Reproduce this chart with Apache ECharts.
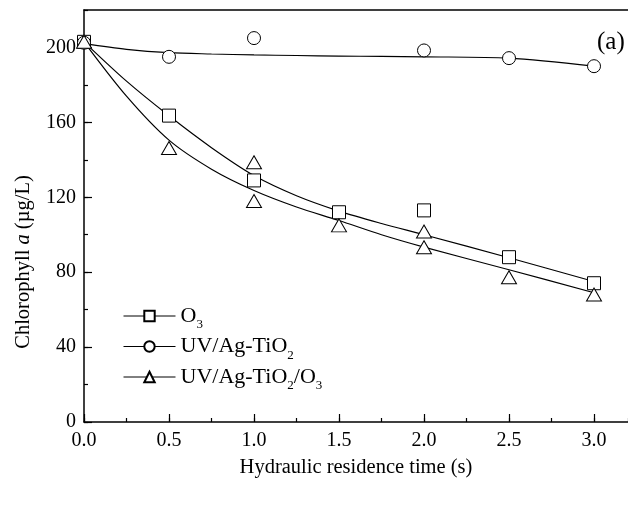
<!DOCTYPE html>
<html>
<head>
<meta charset="utf-8">
<script src="https://cdn.jsdelivr.net/npm/echarts@6/dist/echarts.min.js"></script>
<style>
  html, body { margin: 0; padding: 0; background: #fff; }
  #chart { width: 628px; height: 510px; }
</style>
</head>
<body>
<div id="chart"></div>
<script>
// measured points
const o3X = [0, 0.5, 1.0, 1.5, 2.0, 2.5, 3.0];
const o3Y = [203, 163.6, 129, 112, 113, 88, 74.1];
const uvX = [0, 0.5, 1.0, 2.0, 2.5, 3.0];
const uvY = [202.5, 195, 205, 198.4, 194.3, 190];
const uvo3X = [0, 0.5, 1.0, 1.0, 1.5, 2.0, 2.0, 2.5, 3.0];
const uvo3Y = [203, 146.3, 138.7, 118, 105, 101.7, 93.3, 77.3, 68.1];

// fitted curves
const fitX = [0, 0.25, 0.5, 0.75, 1.0, 1.25, 1.5, 1.75, 2.0, 2.5, 3.0];
const o3Fit = [203, 182, 163.5, 146.5, 131.6, 120.8, 112.6, 106, 100, 87.7, 75];
const uvFit = [202, 199, 197.2, 196.5, 196, 195.7, 195.4, 195.2, 195, 194.3, 190];
const uvo3Fit = [203, 174, 150.5, 135, 123.6, 114.8, 107.6, 100, 93.4, 81.3, 69];

const xTicks = [0, 0.5, 1.0, 1.5, 2.0, 2.5, 3.0];

const pairs = (xs, ys) => xs.map((x, i) => [x, ys[i]]);
const FONT = "Liberation Serif";

const legendNames = {
  "O3": "{n|O}{s|3}",
  "UV/Ag-TiO2": "{n|UV/Ag-TiO}{s|2}",
  "UV/Ag-TiO2/O3": "{n|UV/Ag-TiO}{s|2}{n|/O}{s|3}",
};

const chart = echarts.init(document.getElementById("chart"));

const curve = (data) => ({
  type: "line",
  data: data,
  smooth: 0.3,
  showSymbol: false,
  symbol: "none",
  silent: true,
  lineStyle: { color: "#000", width: 1.2 },
  z: 2,
});

const markers = (name, data, symbol, size) => ({
  name: name,
  type: "line",
  data: data,
  symbol: symbol,
  symbolSize: size,
  showSymbol: true,
  lineStyle: { width: 0, opacity: 0 },
  itemStyle: { color: "#fff", borderColor: "#000", borderWidth: 1 },
  z: 5,
});

chart.setOption({
  animation: false,
  textStyle: { fontFamily: FONT, color: "#000" },
  grid: {
    left: 84, right: 0, top: 10, bottom: 88,
    containLabel: false, outerBoundsMode: "none",
  },
  xAxis: [
    {
      type: "value", min: 0, max: 3.2, interval: 0.5,
      name: "Hydraulic residence time (s)",
      nameLocation: "middle", nameGap: 35,
      nameTextStyle: { fontSize: 20.5, fontFamily: FONT, color: "#000" },
      axisLine: { lineStyle: { color: "#000", width: 1.5 } },
      axisTick: { inside: true, length: 8, lineStyle: { color: "#000", width: 1.2 } },
      axisLabel: {
        fontSize: 20, fontFamily: FONT, color: "#000", margin: 9,
        showMaxLabel: false,
        formatter: (v) => (xTicks.includes(v) ? v.toFixed(1) : ""),
      },
      splitLine: { show: false },
    },
    {
      type: "value", min: 0, max: 3.2, interval: 0.25, position: "bottom",
      axisLine: { show: false },
      axisTick: { inside: true, length: 4, lineStyle: { color: "#000", width: 1.2 } },
      axisLabel: { show: false },
      splitLine: { show: false },
    },
    {
      type: "value", min: 0, max: 3.2, position: "top",
      axisLine: { show: true, onZero: false, lineStyle: { color: "#000", width: 1.5 } },
      axisTick: { show: false },
      axisLabel: { show: false },
      splitLine: { show: false },
    },
  ],
  yAxis: [
    {
      type: "value", min: 0, max: 220, interval: 40,
      name: "Chlorophyll {i|a} (µg/L)",
      nameLocation: "middle", nameGap: 50,
      nameTextStyle: {
        fontSize: 20.5, fontFamily: FONT, color: "#000",
        padding: [0, 92, 0, 0],
        rich: { i: { fontSize: 20.5, fontFamily: FONT, fontStyle: "italic", color: "#000" } },
      },
      axisLine: { show: true, lineStyle: { color: "#000", width: 1.5 } },
      axisTick: { show: true, inside: true, length: 8, lineStyle: { color: "#000", width: 1.2 } },
      axisLabel: {
        fontSize: 20, fontFamily: FONT, color: "#000", margin: 8,
        showMaxLabel: false,
        formatter: (v) => (v % 40 === 0 ? String(v) : ""),
      },
      splitLine: { show: false },
    },
    {
      type: "value", min: 0, max: 220, interval: 20, position: "left",
      axisLine: { show: false },
      axisTick: { show: true, inside: true, length: 4, lineStyle: { color: "#000", width: 1.2 } },
      axisLabel: { show: false },
      splitLine: { show: false },
    },
  ],
  legend: {
    orient: "vertical",
    left: 123, top: 305, padding: 0,
    itemWidth: 52, itemHeight: 13, itemGap: 4,
    data: ["O3", "UV/Ag-TiO2", "UV/Ag-TiO2/O3"],
    lineStyle: { color: "#000", width: 1, opacity: 1 },
    formatter: (name) => legendNames[name],
    textStyle: {
      padding: [0, 0, 0, 0],
      rich: {
        n: { fontSize: 22, fontFamily: FONT, color: "#000" },
        s: { fontSize: 13, fontFamily: FONT, color: "#000", padding: [18, 0, 0, 0] },
      },
    },
  },
  graphic: [
    {
      type: "text", left: 597, top: 30,
      style: { text: "(a)", font: "25px 'Liberation Serif'", fill: "#000" },
    },
  ],
  series: [
    curve(pairs(fitX, o3Fit)),
    curve(pairs(fitX, uvFit)),
    curve(pairs(fitX, uvo3Fit)),
    markers("O3", pairs(o3X, o3Y), "rect", 13),
    markers("UV/Ag-TiO2", pairs(uvX, uvY), "circle", 13),
    markers("UV/Ag-TiO2/O3", pairs(uvo3X, uvo3Y), "triangle", [15, 13]),
  ],
});
</script>
</body>
</html>
